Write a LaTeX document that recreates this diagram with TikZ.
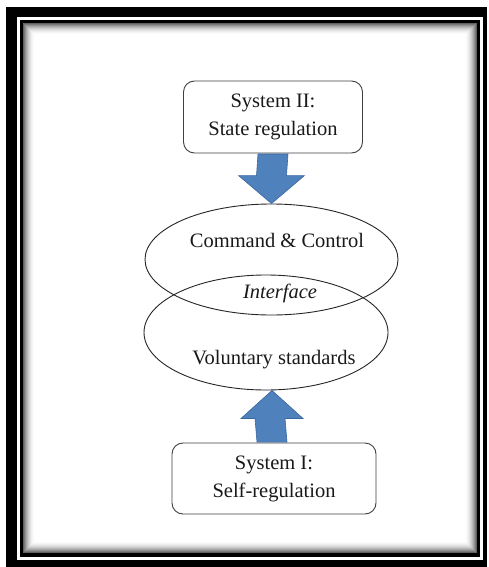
\documentclass[tikz,border=0pt]{standalone}
\usepackage{fontspec}
\setmainfont{Liberation Serif}
\usetikzlibrary{shapes.geometric,calc}
\definecolor{arrowblue}{HTML}{4F81BD}
\definecolor{arrowedge}{HTML}{3A679E}
\tikzset{
  sysbox/.style={draw=black!75, line width=0.9pt, rounded corners=11pt, fill=white,
    align=center, inner sep=0pt},
  oval/.style={draw=black!85, line width=0.9pt, ellipse, inner sep=0pt},
  lbl/.style={font=\fontsize{20.5}{28}\selectfont, text=black!90, align=center, inner sep=0pt},
  blockarrow/.style={fill=arrowblue, draw=arrowedge, line width=0.6pt, line join=miter},
}
\begin{document}
\begin{tikzpicture}[x=1pt, y=-1pt]
\useasboundingbox (0,0) rectangle (488,567);

% double frame: thick outer rule, white gap, thin inner rule
\fill[black] (6,7) rectangle (487,567);
\fill[white] (17,17) rectangle (483,560);
\fill[black] (20,20) rectangle (480,557);
\fill[white] (23,23) rectangle (477,553);
% soft inner shadow along the frame
\foreach \i in {0,...,11}{
  \pgfmathsetmacro{\sh}{62*(1-\i/12)^2}
  \draw[black!\sh, line width=1pt] (23.5+\i,23.5+\i) rectangle (476.5-\i,552.5-\i);
}

% the two overlapping regimes
\node[oval, minimum width=253pt, minimum height=111pt] (cc) at (271.5,259.5) {};
\node[oval, minimum width=244pt, minimum height=115pt] (vs) at (266,332.5) {};
\node[lbl] (cctxt) at (277,240) {Command \& Control};
\node[lbl, font=\fontsize{20.5}{28}\selectfont\itshape] (iface) at (280,293) {Interface};
\node[lbl] (vstxt) at (274,360) {Voluntary standards};

% the two systems
\node[sysbox, minimum width=179pt, minimum height=72pt] (s2) at (273,117) {};
\node[lbl] (s2txt) at (s2) {System II:\\State regulation};
\node[sysbox, minimum width=204pt, minimum height=71pt] (s1) at (274,478.5) {};
\node[lbl] (s1txt) at (s1) {System I:\\Self-regulation};

% block arrows: state regulation pushes down, self-regulation pushes up
\coordinate (a2top) at ($(s2.south)+(0,0.5)$);
\coordinate (a2tip) at (cc.north);
\draw[blockarrow]
  ($(a2top)+(-15,0)$) -- ($(a2top)+(15,0)$) -- ($(a2tip)+(15,-28)$) --
  ($(a2tip)+(33,-28)$) -- (a2tip) -- ($(a2tip)+(-33,-28)$) --
  ($(a2tip)+(-15,-28)$) -- cycle;
\coordinate (a1bot) at ($(s1.north)+(0,-0.5)$);
\coordinate (a1tip) at ($(vs.south)+(6,0)$);
\draw[blockarrow]
  ($(a1bot)+(-17,0)$) -- ($(a1bot)+(13,0)$) -- ($(a1tip)+(13,28)$) --
  ($(a1tip)+(31,28)$) -- (a1tip) -- ($(a1tip)+(-31,28)$) --
  ($(a1tip)+(-17,28)$) -- cycle;
\end{tikzpicture}
\end{document}
